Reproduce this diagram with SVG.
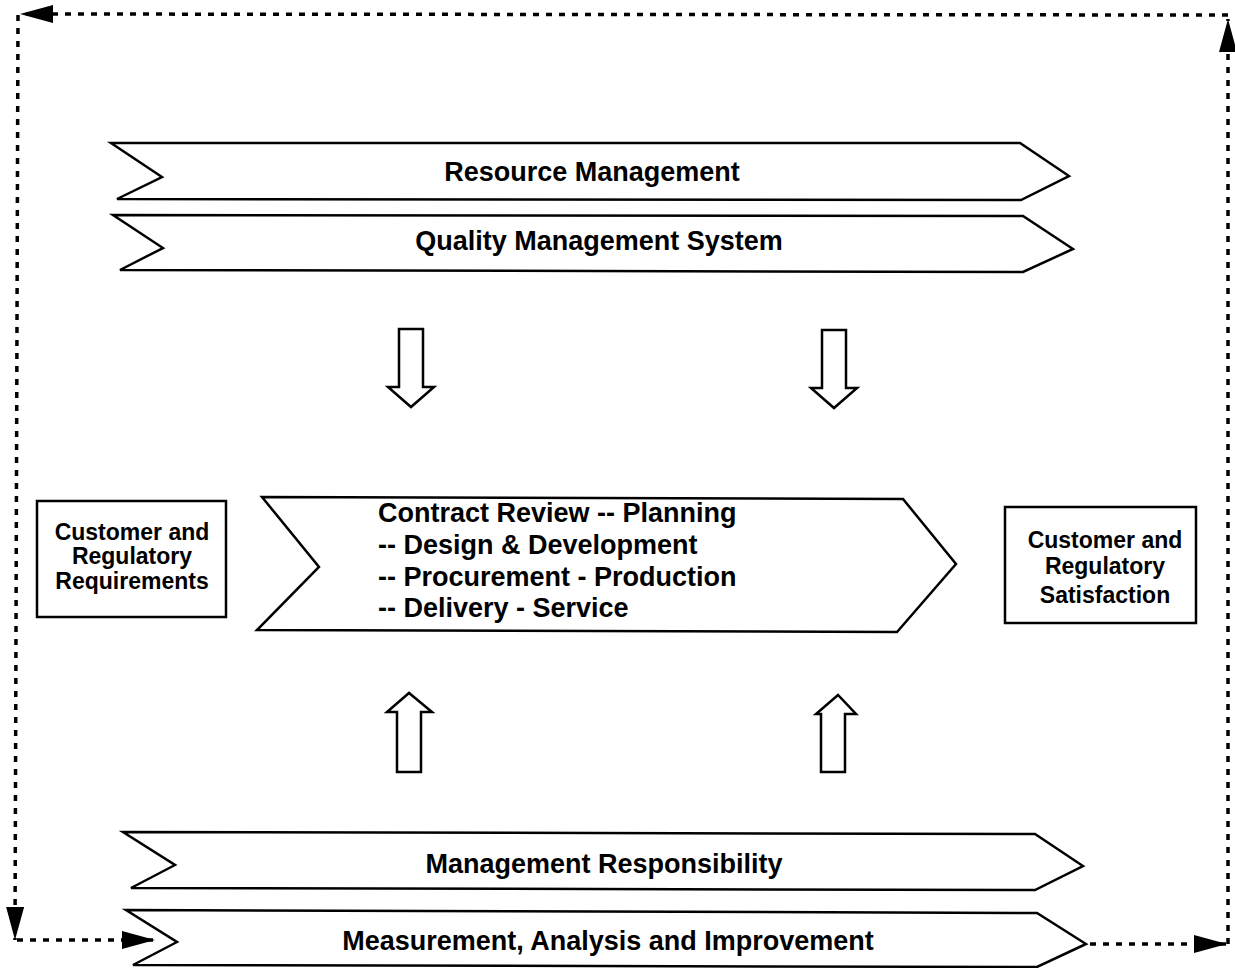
<svg xmlns="http://www.w3.org/2000/svg" width="1235" height="968" viewBox="0 0 1235 968">
<style>
.shape{fill:#fff;stroke:#000;stroke-width:2.5;stroke-linejoin:miter}
.t{font-family:"Liberation Sans",Arial,sans-serif;font-weight:bold;fill:#000}
.big{font-size:27px}
.sm{font-size:23px}
.dot{fill:none;stroke:#000;stroke-width:3.5;stroke-dasharray:6 7}
</style>
<defs>
<marker id="ah" markerUnits="userSpaceOnUse" markerWidth="34" markerHeight="20" refX="33" refY="9" orient="auto">
<path d="M0,0 L33,9 L0,18 Z" fill="#000"/>
</marker>
</defs>
<rect width="1235" height="968" fill="#fff"/>
<g id="resource-management">
<polygon class="shape" points="111,143 1020,143 1069,176 1021,200 117,199 162,177"/>
<text class="t big" x="592" y="181" text-anchor="middle">Resource Management</text>
</g>
<g id="quality-management-system">
<polygon class="shape" points="113,215 1023,216 1073,249 1023,272 120,270 163,248"/>
<text class="t big" x="599" y="250" text-anchor="middle">Quality Management System</text>
</g>
<g id="arrow-down-left">
<polygon class="shape" points="399,329 423,329 423,387 434,387 411,407 388,387 399,387"/>
</g>
<g id="arrow-down-right">
<polygon class="shape" points="822,330 846,330 846,388 857,388 834,408 811,388 822,388"/>
</g>
<g id="customer-requirements">
<rect class="shape" x="37" y="501" width="189" height="116"/>
<text class="t sm" text-anchor="middle"><tspan x="132" y="540">Customer and</tspan><tspan x="132" y="564">Regulatory</tspan><tspan x="132" y="589">Requirements</tspan></text>
</g>
<g id="process">
<polygon class="shape" points="262,497 903,499 956,564 897,632 257,630 319,567"/>
<text class="t big"><tspan x="378" y="522">Contract Review -- Planning</tspan><tspan x="378" y="554">-- Design &amp; Development</tspan><tspan x="378" y="586">-- Procurement - Production</tspan><tspan x="378" y="617">-- Delivery - Service</tspan></text>
</g>
<g id="customer-satisfaction">
<rect class="shape" x="1005" y="507" width="191" height="116"/>
<text class="t sm" text-anchor="middle"><tspan x="1105" y="548">Customer and</tspan><tspan x="1105" y="574">Regulatory</tspan><tspan x="1105" y="603">Satisfaction</tspan></text>
</g>
<g id="arrow-up-left">
<polygon class="shape" points="397,772 421,772 421,712 432,712 409,693 387,712 397,712"/>
</g>
<g id="arrow-up-right">
<polygon class="shape" points="821,772 845,772 845,714 856,714 838,695 816,714 821,714"/>
</g>
<g id="management-responsibility">
<polygon class="shape" points="123,832 1035,834 1083,866 1035,890 131,888 175,865"/>
<text class="t big" x="604" y="873" text-anchor="middle">Management Responsibility</text>
</g>
<g id="measurement">
<polygon class="shape" points="126,910 1037,913 1086,944 1037,967 133,965 177,942"/>
<text class="t big" x="608" y="950" text-anchor="middle">Measurement, Analysis and Improvement</text>
</g>
<g id="connectors">
<path class="dot" d="M1228,944 L1228,19" marker-end="url(#ah)"/>
<path class="dot" d="M1228,15 L20,14" marker-end="url(#ah)"/>
<path class="dot" d="M18,15 L15,940" marker-end="url(#ah)"/>
<path class="dot" d="M17,940 L155,940" marker-end="url(#ah)"/>
<path class="dot" d="M1090,944 L1227,944" marker-end="url(#ah)"/>
</g>
</svg>
